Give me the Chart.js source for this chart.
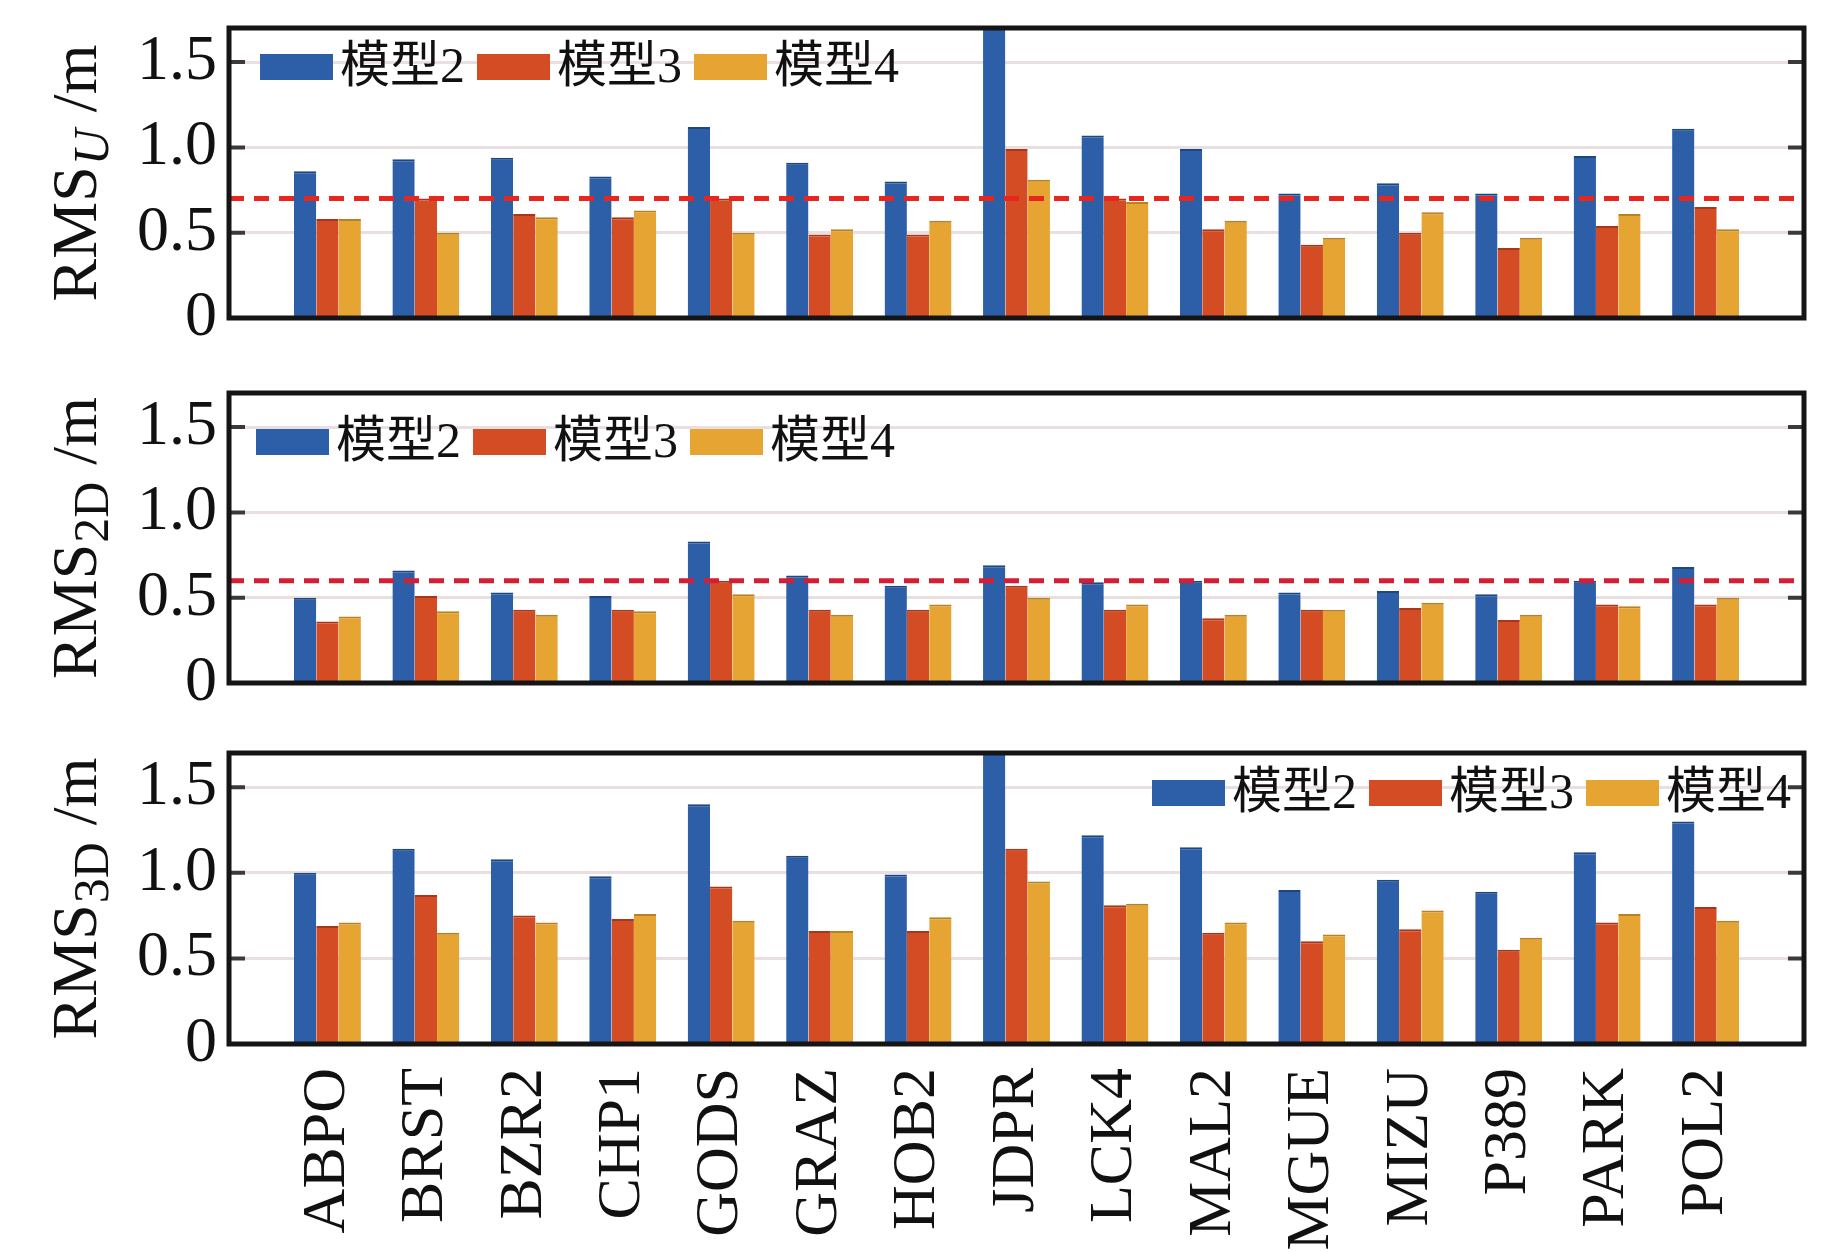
<!DOCTYPE html>
<html>
<head>
<meta charset="utf-8">
<script src="https://cdn.jsdelivr.net/npm/chart.js@4.4.1/dist/chart.umd.min.js"></script>
<style>
  html, body { margin: 0; padding: 0; background: #fff; }
  #wrap { position: relative; width: 1843px; height: 1252px; overflow: hidden; }
  canvas { position: absolute; left: 0; }
</style>
</head>
<body>
<div id="wrap">
  <canvas id="cU" width="1843" height="360" style="top:0px"></canvas>
  <canvas id="c2D" width="1843" height="360" style="top:360px"></canvas>
  <canvas id="c3D" width="1843" height="532" style="top:720px"></canvas>
</div>
<script>
// stations and models
const stations = ['ABPO', 'BRST', 'BZR2', 'CHP1', 'GODS', 'GRAZ', 'HOB2', 'JDPR', 'LCK4', 'MAL2', 'MGUE', 'MIZU', 'P389', 'PARK', 'POL2'];
const models = ['模型2', '模型3', '模型4'];
const colors = ['#2d5ea8', '#d44c24', '#e6a532'];
const edgeColors = ['#1f477f', '#a8361a', '#b88224'];
const yTicks = [0, 0.5, 1.0, 1.5];
const yMax = 1.7;

// RMS U (m)
const rmsU_m2 = [0.86, 0.93, 0.94, 0.83, 1.12, 0.91, 0.80, 1.85, 1.07, 0.99, 0.73, 0.79, 0.73, 0.95, 1.11];
const rmsU_m3 = [0.58, 0.70, 0.61, 0.59, 0.70, 0.49, 0.49, 0.99, 0.70, 0.52, 0.43, 0.50, 0.41, 0.54, 0.65];
const rmsU_m4 = [0.58, 0.50, 0.59, 0.63, 0.50, 0.52, 0.57, 0.81, 0.68, 0.57, 0.47, 0.62, 0.47, 0.61, 0.52];
const limitU = 0.7;

// RMS 2D (m)
const rms2D_m2 = [0.50, 0.66, 0.53, 0.51, 0.83, 0.63, 0.57, 0.69, 0.59, 0.60, 0.53, 0.54, 0.52, 0.60, 0.68];
const rms2D_m3 = [0.36, 0.51, 0.43, 0.43, 0.60, 0.43, 0.43, 0.57, 0.43, 0.38, 0.43, 0.44, 0.37, 0.46, 0.46];
const rms2D_m4 = [0.39, 0.42, 0.40, 0.42, 0.52, 0.40, 0.46, 0.50, 0.46, 0.40, 0.43, 0.47, 0.40, 0.45, 0.50];
const limit2D = 0.6;

// RMS 3D (m)
const rms3D_m2 = [1.00, 1.14, 1.08, 0.98, 1.40, 1.10, 0.99, 2.00, 1.22, 1.15, 0.90, 0.96, 0.89, 1.12, 1.30];
const rms3D_m3 = [0.69, 0.87, 0.75, 0.73, 0.92, 0.66, 0.66, 1.14, 0.81, 0.65, 0.60, 0.67, 0.55, 0.71, 0.80];
const rms3D_m4 = [0.71, 0.65, 0.71, 0.76, 0.72, 0.66, 0.74, 0.95, 0.82, 0.71, 0.64, 0.78, 0.62, 0.76, 0.72];

const SERIF = "'Liberation Serif', 'Times New Roman', serif";
const LEGEND_FONT = "50px 'Liberation Serif', 'Noto Sans CJK SC', serif";

// empty slot at both ends, like the original axis
const labels = ['', ...stations, ''];
const pad = arr => [null, ...arr, null];

// frame, inward ticks, limit line, legend and y title
const panelDecor = {
    id: 'panelDecor',
    afterDatasetsDraw(chart, args, opts) {
        const { ctx, chartArea: a, scales: { y } } = chart;
        if (opts.limit == null) return;
        const py = y.getPixelForValue(opts.limit);
        ctx.save();
        ctx.strokeStyle = opts.limitColor;
        ctx.lineWidth = 5;
        ctx.setLineDash([15, 10]);
        ctx.beginPath();
        ctx.moveTo(a.left, py);
        ctx.lineTo(a.right, py);
        ctx.stroke();
        ctx.restore();
    },
    afterDraw(chart, args, opts) {
        const { ctx, chartArea: a, scales: { y } } = chart;
        ctx.save();

        // inward tick marks on both sides
        ctx.strokeStyle = '#3a3a3a';
        ctx.lineWidth = 4;
        yTicks.filter(v => v > 0).forEach(v => {
            const py = y.getPixelForValue(v);
            ctx.beginPath();
            ctx.moveTo(a.left, py); ctx.lineTo(a.left + 16, py);
            ctx.moveTo(a.right - 16, py); ctx.lineTo(a.right, py);
            ctx.stroke();
        });

        // frame
        ctx.strokeStyle = '#151515';
        ctx.lineWidth = 5;
        ctx.strokeRect(a.left, a.top, a.right - a.left, a.bottom - a.top);

        // legend
        const lg = opts.legend;
        ctx.font = LEGEND_FONT;
        ctx.textBaseline = 'middle';
        ctx.textAlign = 'left';
        const sets = chart.data.datasets;
        const boxW = 73, boxH = 26, gapBT = 7, gapItem = 12;
        const widths = sets.map(d => ctx.measureText(d.label).width);
        const total = widths.reduce((s, w) => s + boxW + gapBT + w, 0) + gapItem * (sets.length - 1);
        let x = lg.align === 'right' ? a.right - lg.dx - total : a.left + lg.dx;
        const top = a.top + lg.dy;
        sets.forEach((d, i) => {
            ctx.fillStyle = d.backgroundColor;
            ctx.fillRect(x, top, boxW, boxH);
            x += boxW + gapBT;
            ctx.fillStyle = '#111';
            ctx.fillText(d.label, x, top + boxH / 2 + 2);
            x += widths[i] + gapItem;
        });

        // y title with subscript, rotated
        const t = opts.title;
        const mainFont = '64px ' + SERIF;
        const subFont = (t.italic ? 'italic ' : '') + '50px ' + SERIF;
        ctx.font = mainFont;
        const w1 = ctx.measureText(t.main).width;
        const w3 = ctx.measureText(t.unit).width;
        ctx.font = subFont;
        const w2 = ctx.measureText(t.sub).width + 2;
        const len = w1 + w2 + w3;
        ctx.translate(96, (a.top + a.bottom) / 2 + len / 2);
        ctx.rotate(-Math.PI / 2);
        ctx.textBaseline = 'alphabetic';
        ctx.fillStyle = '#111';
        ctx.font = mainFont;
        ctx.fillText(t.main, 0, 0);
        ctx.font = subFont;
        ctx.fillText(t.sub, w1 + 1, 12);
        ctx.font = mainFont;
        ctx.fillText(t.unit, w1 + w2, 0);

        ctx.restore();
    }
};

function makePanel(canvasId, series, limit, limitColor, title, legend, showX, padding) {
    const datasets = series.map((vals, i) => ({
        label: models[i],
        data: pad(vals),
        backgroundColor: colors[i],
        borderColor: edgeColors[i],
        borderWidth: { top: 2, left: 0, right: 0, bottom: 0 },
        borderSkipped: 'bottom',
        categoryPercentage: 0.68,
        barPercentage: 1.0
    }));
    return new Chart(document.getElementById(canvasId), {
        type: 'bar',
        data: { labels: labels, datasets: datasets },
        plugins: [panelDecor],
        options: {
            responsive: false,
            animation: false,
            devicePixelRatio: 1,
            layout: { padding: padding },
            plugins: {
                legend: { display: false },
                tooltip: { enabled: false },
                panelDecor: { limit: limit, limitColor: limitColor, title: title, legend: legend }
            },
            scales: {
                x: {
                    display: showX,
                    offset: false,
                    grid: { display: false, drawTicks: false },
                    border: { display: false },
                    ticks: {
                        autoSkip: false,
                        minRotation: 90,
                        maxRotation: 90,
                        padding: 24,
                        color: '#111',
                        font: { family: SERIF, size: 62 }
                    },
                    afterFit: s => {
                        s.height = showX ? 208 : 0;
                        s.paddingLeft = 0;
                        s.paddingRight = 0;
                    }
                },
                y: {
                    min: 0,
                    max: yMax,
                    afterBuildTicks: s => { s.ticks = yTicks.map(v => ({ value: v })); },
                    afterFit: s => {
                        s.width = 229;
                        s.paddingTop = 0;
                        s.paddingBottom = 0;
                    },
                    border: { display: false },
                    grid: {
                        drawTicks: false,
                        lineWidth: 3,
                        color: c => (c.tick && c.tick.value === 0) ? 'rgba(0,0,0,0)' : '#e9dfe0'
                    },
                    ticks: {
                        padding: 12,
                        color: '#111',
                        font: { family: SERIF, size: 64 },
                        callback: v => v === 0 ? '0' : Number(v).toFixed(1)
                    }
                }
            }
        }
    });
}

makePanel('cU', [rmsU_m2, rmsU_m3, rmsU_m4], limitU, '#e8261e',
    { main: 'RMS', sub: 'U', unit: ' /m', italic: true },
    { align: 'left', dx: 31, dy: 26 }, false,
    { top: 28, bottom: 42, left: 0, right: 39 });

makePanel('c2D', [rms2D_m2, rms2D_m3, rms2D_m4], limit2D, '#d21f35',
    { main: 'RMS', sub: '2D', unit: ' /m', italic: false },
    { align: 'left', dx: 27, dy: 36 }, false,
    { top: 33, bottom: 37, left: 0, right: 39 });

makePanel('c3D', [rms3D_m2, rms3D_m3, rms3D_m4], null, null,
    { main: 'RMS', sub: '3D', unit: ' /m', italic: false },
    { align: 'right', dx: 13, dy: 27 }, true,
    { top: 33, bottom: 0, left: 0, right: 39 });
</script>
</body>
</html>
